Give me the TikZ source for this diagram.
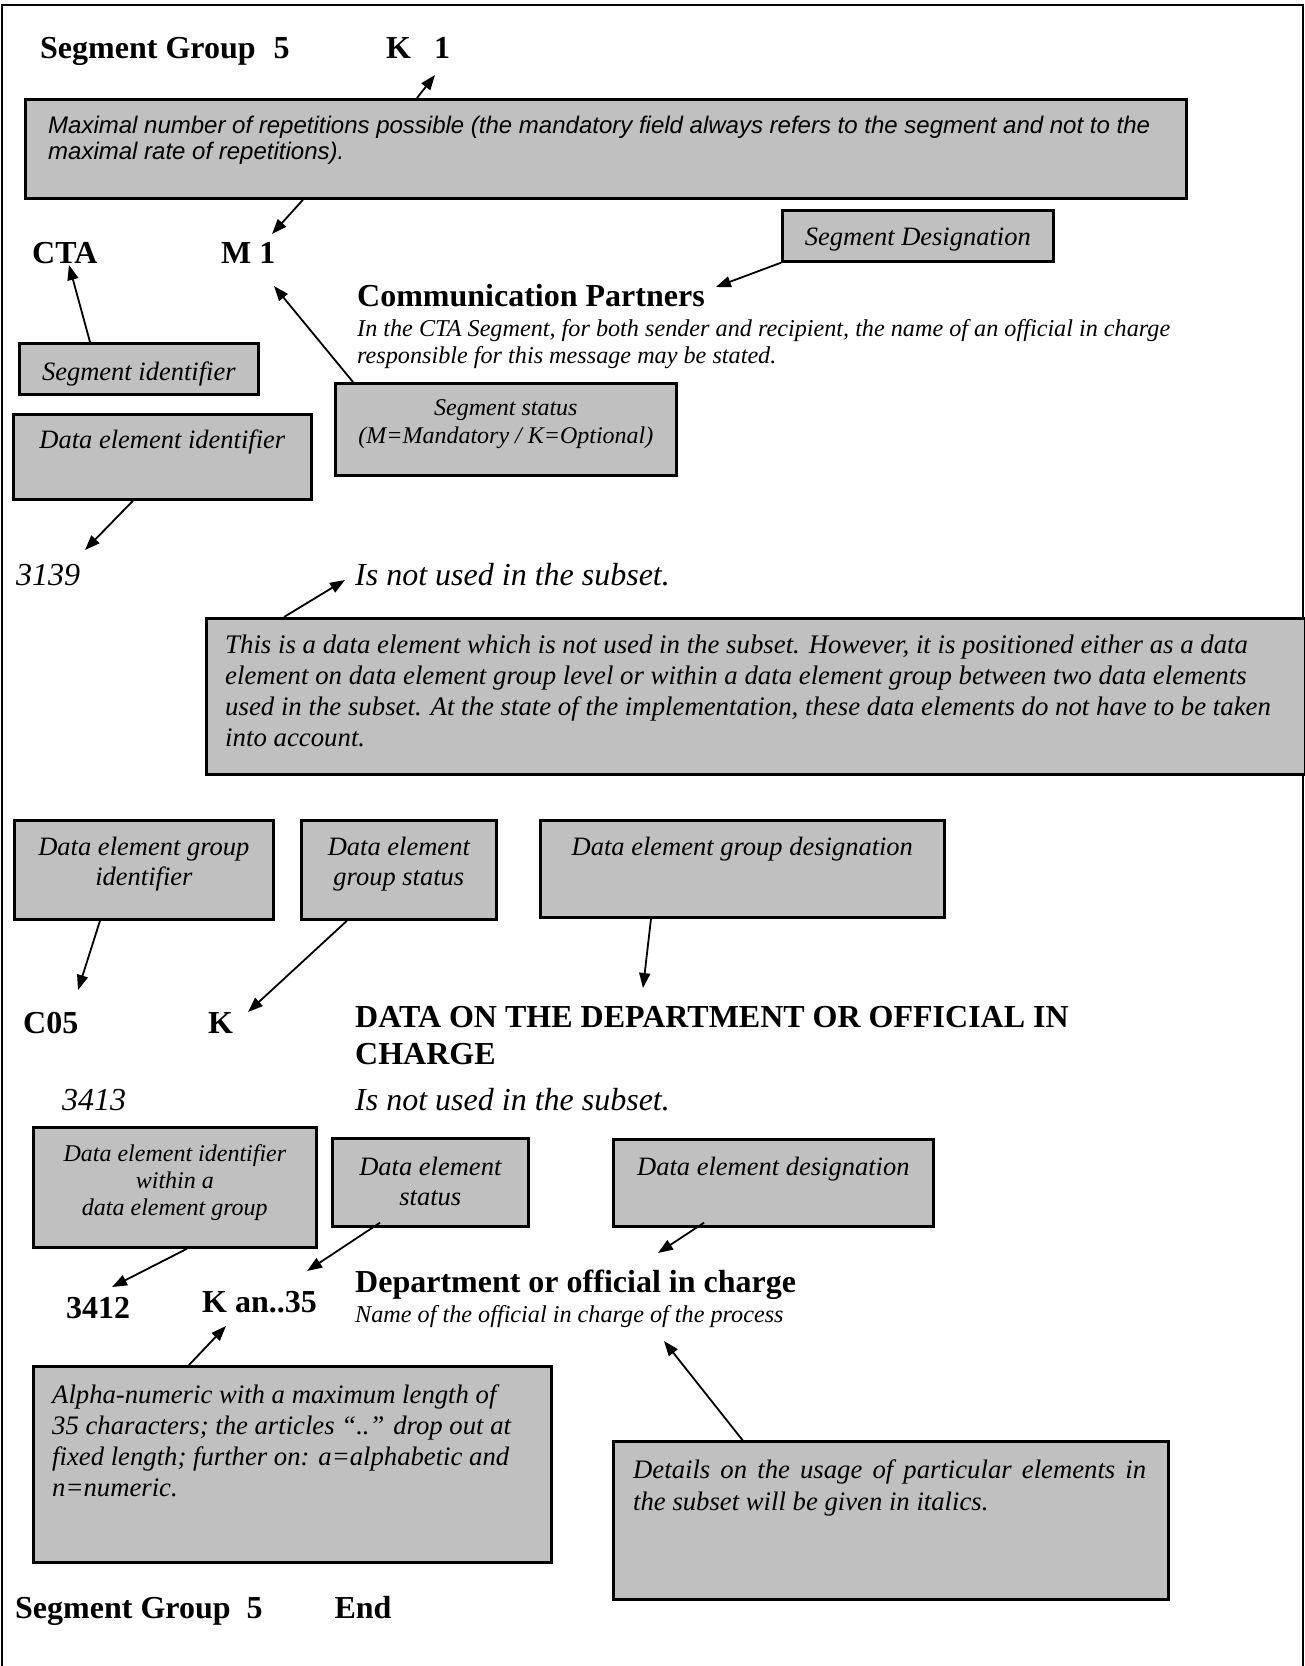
\documentclass[tikz,border=0pt]{standalone}
\usepackage{fontspec}
\setmainfont{Liberation Serif}
\newfontfamily\arialfont{Liberation Sans}
\usepackage{xcolor}
\usetikzlibrary{arrows.meta,positioning}
\definecolor{InfoBoxBackground}{HTML}{C0C0C0}
\tikzstyle{InfoBox} =[draw,fill=InfoBoxBackground,line width=2.7pt,anchor=north west,inner sep=0pt]
\tikzstyle{BoxLabel} =[anchor=base,inner sep=0pt,align=center,font=\fontsize{26.5}{30}\selectfont\itshape]
\tikzstyle{SmallBoxLabel} =[anchor=base,inner sep=0pt,align=center,font=\fontsize{24}{27}\selectfont\itshape]
\tikzstyle{BoxText} =[anchor=base west,inner sep=0pt,align=left,font=\fontsize{26.8}{31}\selectfont\itshape]
\tikzstyle{Heading} =[anchor=base west,inner sep=0pt,align=left,font=\fontsize{32}{37}\selectfont\bfseries]
\tikzstyle{Remark} =[anchor=base west,inner sep=0pt,font=\fontsize{32}{37}\selectfont\itshape]
\tikzstyle{Description} =[anchor=base west,inner sep=0pt,align=left,font=\fontsize{24.2}{27}\selectfont\itshape]
\tikzstyle{Pointer} =[-{Triangle[length=15pt,width=11pt]},line width=1.8pt]

\begin{document}
\begin{tikzpicture}[x=1pt,y=-1pt]
    \useasboundingbox (0,0) rectangle (1305,1666);
    \draw[line width=2pt] (2,1666) -- (2,5) -- (1303,5) -- (1303,1666);

    % segment header
    \node[Heading](SegmentGroupStart) at (40,58){Segment Group\hspace{18pt}5};
    \node[Heading](RepetitionCount) at (386,58){K\hspace{23pt}1};

    \node[InfoBox,minimum width=1161pt,minimum height=99pt](RepetitionsBox) at (24,98){};
    \node[BoxText,font=\fontsize{24}{26}\selectfont\arialfont\itshape](RepetitionsText) at ([xshift=24pt,yshift=-61pt]RepetitionsBox.north west){Maximal number of repetitions possible (the mandatory field always refers to the segment and not to the\\maximal rate of repetitions).};

    \node[Heading](SegmentTag) at (32,263){CTA};
    \node[Heading](SegmentStatus) at (221,263){M 1};
    \node[Heading](SegmentName) at (357,306){Communication Partners};
    \node[Description](SegmentNote) at (357,363){In the CTA Segment, for both sender and recipient, the name of an official in charge\\responsible for this message may be stated.};

    \node[InfoBox,minimum width=271pt,minimum height=51pt](DesignationBox) at (781,209){};
    \node[BoxLabel] at ([yshift=-36pt]DesignationBox.north){Segment Designation};
    \node[InfoBox,minimum width=239pt,minimum height=51pt](SegmentIdBox) at (18,342){};
    \node[BoxLabel] at ([yshift=-38pt]SegmentIdBox.north){Segment identifier};
    \node[InfoBox,minimum width=298pt,minimum height=85pt](ElementIdBox) at (12,413){};
    \node[BoxLabel] at ([yshift=-35pt]ElementIdBox.north){Data element identifier};
    \node[InfoBox,minimum width=341pt,minimum height=92pt](SegmentStatusBox) at (334,382){};
    \node[SmallBoxLabel,font=\fontsize{24}{27.5}\selectfont\itshape] at ([yshift=-61pt]SegmentStatusBox.north){Segment status\\(M=Mandatory / K=Optional)};

    % data element not used
    \node[Remark](ElementTag) at (16,585){3139};
    \node[Remark](ElementUnused) at (355,585){Is not used in the subset.};
    \node[InfoBox,minimum width=1099pt,minimum height=156pt](UnusedBox) at (205,617){};
    \node[BoxText](UnusedText) at ([xshift=20pt,yshift=-129pt]UnusedBox.north west){This is a data element which is not used in the subset. However, it is positioned either as a data\\element on data element group level or within a data element group between two data elements\\used in the subset. At the state of the implementation, these data elements do not have to be taken\\into account.};

    % data element group
    \node[InfoBox,minimum width=259pt,minimum height=99pt](GroupIdBox) at (13,819){};
    \node[BoxLabel] at ([yshift=-66pt]GroupIdBox.north){Data element group\\identifier};
    \node[InfoBox,minimum width=195pt,minimum height=99pt](GroupStatusBox) at (300,819){};
    \node[BoxLabel] at ([yshift=-66pt]GroupStatusBox.north){Data element\\group status};
    \node[InfoBox,minimum width=404pt,minimum height=97pt](GroupDesignationBox) at (539,819){};
    \node[BoxLabel] at ([yshift=-36pt]GroupDesignationBox.north){Data element group designation};

    \node[Heading](GroupTag) at (23,1033){C05};
    \node[Heading](GroupStatus) at (208,1033){K};
    \node[Heading](GroupName) at (355,1064){DATA ON THE DEPARTMENT OR OFFICIAL IN\\CHARGE};
    \node[Remark](GroupElementTag) at (62,1110){3413};
    \node[Remark](GroupElementUnused) at (355,1110){Is not used in the subset.};

    % data element within the group
    \node[InfoBox,minimum width=283pt,minimum height=120pt](ElementInGroupBox) at (32,1126){};
    \node[SmallBoxLabel] at ([yshift=-89pt]ElementInGroupBox.north){Data element identifier\\within a\\data element group};
    \node[InfoBox,minimum width=196pt,minimum height=88pt](ElementStatusBox) at (331,1137){};
    \node[BoxLabel] at ([yshift=-68pt]ElementStatusBox.north){Data element\\status};
    \node[InfoBox,minimum width=320pt,minimum height=87pt](ElementDesignationBox) at (612,1138){};
    \node[BoxLabel] at ([yshift=-37pt]ElementDesignationBox.north){Data element designation};

    \node[Heading](ElementInGroupTag) at (66,1318){3412};
    \node[Heading](ElementFormat) at (202,1312){K an..35};
    \node[Heading](ElementName) at (355,1292){Department or official in charge};
    \node[Description](ElementNote) at (355,1322){Name of the official in charge of the process};

    \node[InfoBox,minimum width=518pt,minimum height=196pt](FormatBox) at (32,1365){};
    \node[BoxText,font=\fontsize{26.7}{31}\selectfont\itshape](FormatText) at ([xshift=20pt,yshift=-131pt]FormatBox.north west){Alpha-numeric with a maximum length of\\35 characters; the articles “..” drop out at\\fixed length; further on: a=alphabetic and\\n=numeric.};
    \node[InfoBox,minimum width=555pt,minimum height=158pt](DetailsBox) at (612,1440){};
    \node[BoxText,align=justify,text width=513pt,font=\fontsize{26.7}{32}\selectfont\itshape](DetailsText) at ([xshift=21pt,yshift=-38pt]DetailsBox.north west){Details on the usage of particular elements in\linebreak the subset will be given in italics.};

    \node[Heading](SegmentGroupEnd) at (15,1618){Segment Group\hspace{16pt}5\hspace{72pt}End};

    % pointers
    \draw[Pointer] ([xshift=393pt]RepetitionsBox.north west) -- ([xshift=49pt,yshift=-17pt]RepetitionCount.base west);
    \draw[Pointer] ([xshift=279pt]RepetitionsBox.south west) -- ([xshift=51pt,yshift=29pt]SegmentStatus.base west);
    \draw[Pointer] (DesignationBox.south west) -- ([xshift=11pt,yshift=19pt]SegmentName.base east);
    \draw[Pointer] ([xshift=72pt]SegmentIdBox.north west) -- ([xshift=37pt,yshift=-2pt]SegmentTag.base west);
    \draw[Pointer] ([xshift=19pt]SegmentStatusBox.north west) -- ([xshift=53pt,yshift=-23pt]SegmentStatus.base west);
    \draw[Pointer] ([xshift=121pt]ElementIdBox.south west) -- ([xshift=69pt,yshift=35pt]ElementTag.base west);
    \draw[Pointer] ([xshift=79pt]UnusedBox.north west) -- ([xshift=-10pt,yshift=5pt]ElementUnused.base west);
    \draw[Pointer] ([xshift=87pt]GroupIdBox.south west) -- ([xshift=55pt,yshift=43pt]GroupTag.base west);
    \draw[Pointer] ([xshift=47pt]GroupStatusBox.south west) -- ([xshift=40pt,yshift=21pt]GroupStatus.base west);
    \draw[Pointer] ([xshift=112pt]GroupDesignationBox.south west) -- ([xshift=288pt,yshift=76pt]GroupName.base west);
    \draw[Pointer] ([xshift=155pt]ElementInGroupBox.south west) -- ([xshift=46pt,yshift=31pt]ElementInGroupTag.base west);
    \draw[Pointer] ([xshift=49pt,yshift=5pt]ElementStatusBox.south west) -- ([xshift=-10pt,yshift=41pt]ElementFormat.base east);
    \draw[Pointer] ([xshift=92pt,yshift=5pt]ElementDesignationBox.south west) -- ([xshift=303pt,yshift=39pt]ElementName.base west);
    \draw[Pointer] ([xshift=157pt]FormatBox.north west) -- ([xshift=24pt,yshift=-14pt]ElementFormat.base west);
    \draw[Pointer] ([xshift=132pt,yshift=-2pt]DetailsBox.north west) -- ([xshift=309pt,yshift=-19pt]ElementNote.base west);
\end{tikzpicture}
\end{document}
